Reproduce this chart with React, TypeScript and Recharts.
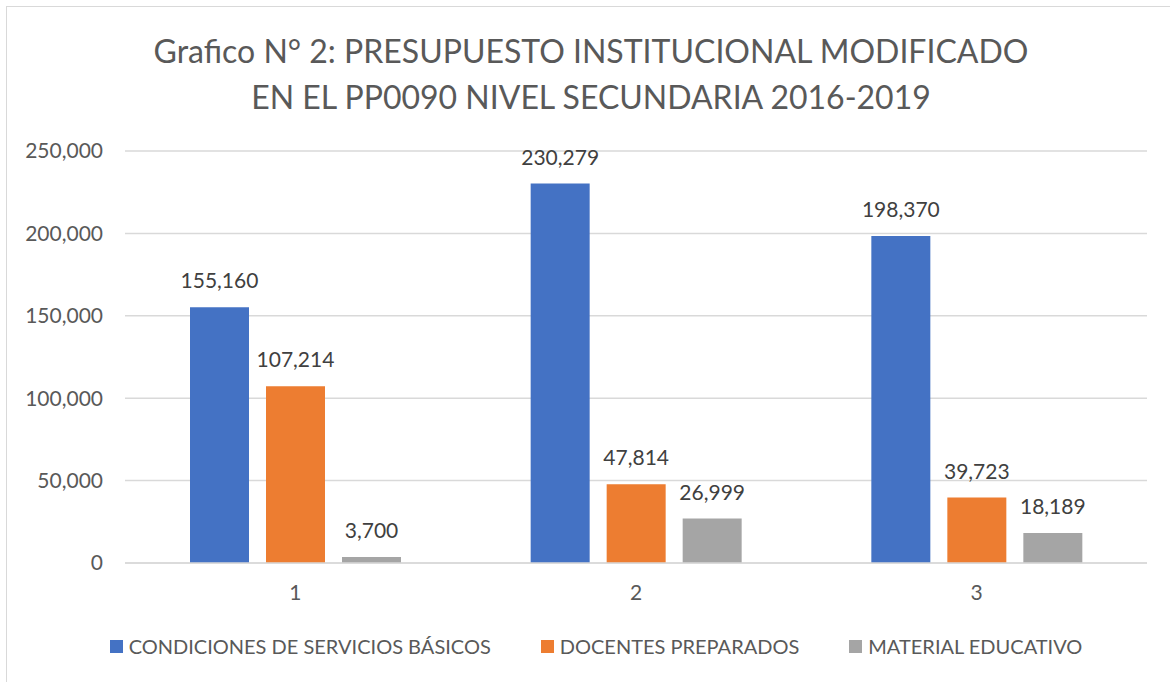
import React from "react";
import { BarChart, Bar, XAxis, YAxis, CartesianGrid, LabelList } from "recharts";

const categories = ["1", "2", "3"];
const serviciosBasicos = [155160, 230279, 198370];
const docentesPreparados = [107214, 47814, 39723];
const materialEducativo = [3700, 26999, 18189];
const yTicks = [0, 50000, 100000, 150000, 200000, 250000];
const seriesNames = [
  "CONDICIONES DE SERVICIOS BÁSICOS",
  "DOCENTES PREPARADOS",
  "MATERIAL EDUCATIVO",
];
const seriesColors = ["#4472C4", "#ED7D31", "#A5A5A5"];
const titleLines = [
  "Grafico N° 2: PRESUPUESTO INSTITUCIONAL MODIFICADO",
  "EN EL PP0090 NIVEL SECUNDARIA 2016-2019",
];

const data = categories.map((c, i) => ({
  cat: c,
  s1: serviciosBasicos[i],
  s2: docentesPreparados[i],
  s3: materialEducativo[i],
}));

const FONT = "Lato, 'Open Sans', sans-serif";
const TEXT = "#595959";
const fmt = (v: number) => v.toLocaleString("en-US");

export default function App() {
  return (
    <div style={{ position: "absolute", top: 0, left: 0, width: 1170, height: 682, overflow: "hidden", background: "#fff" }}>
      <div style={{ position: "absolute", left: 6, top: 6, width: 1200, height: 720, border: "1.5px solid #d9d9d9" }} />
      <div style={{ position: "absolute", top: 28, left: 0, width: 1182, textAlign: "center", fontFamily: FONT, fontSize: 32, color: TEXT, lineHeight: "46px" }}>
        {titleLines.map((t, i) => (
          <div key={i}>{t}</div>
        ))}
      </div>
      <div style={{ position: "absolute", top: 0, left: 0 }}>
        <BarChart
          width={1170}
          height={682}
          data={data}
          margin={{ top: 151, right: 23, bottom: 69, left: 0 }}
          barSize={59}
          barGap={17}
        >
          <CartesianGrid vertical={false} stroke="#d9d9d9" strokeWidth={1.5} />
          <XAxis
            dataKey="cat"
            axisLine={{ stroke: "#d9d9d9", strokeWidth: 1.5 }}
            tickLine={false}
            tickSize={0}
            tickMargin={22}
            tick={{ fill: TEXT, fontSize: 21, fontFamily: FONT }}
            height={50}
          />
          <YAxis
            domain={[0, 250000]}
            ticks={yTicks}
            tickFormatter={fmt}
            axisLine={false}
            tickLine={false}
            tickSize={0}
            tickMargin={22}
            width={125}
            tick={{ fill: TEXT, fontSize: 21, fontFamily: FONT }}
          />
          <Bar dataKey="s1" name={seriesNames[0]} fill={seriesColors[0]} isAnimationActive={false}>
            <LabelList dataKey="s1" position="top" offset={19} formatter={fmt as any} style={{ fill: "#404040", fontSize: 21, fontFamily: FONT }} />
          </Bar>
          <Bar dataKey="s2" name={seriesNames[1]} fill={seriesColors[1]} isAnimationActive={false}>
            <LabelList dataKey="s2" position="top" offset={19} formatter={fmt as any} style={{ fill: "#404040", fontSize: 21, fontFamily: FONT }} />
          </Bar>
          <Bar dataKey="s3" name={seriesNames[2]} fill={seriesColors[2]} isAnimationActive={false}>
            <LabelList dataKey="s3" position="top" offset={19} formatter={fmt as any} style={{ fill: "#404040", fontSize: 21, fontFamily: FONT }} />
          </Bar>
        </BarChart>
      </div>
      <div style={{ position: "absolute", top: 632, left: 0, width: 1192, display: "flex", justifyContent: "center", alignItems: "center", fontFamily: FONT, fontSize: 20, color: TEXT, lineHeight: "28px" }}>
        {seriesNames.map((n, i) => (
          <div key={i} style={{ display: "flex", alignItems: "center", marginLeft: i === 0 ? 0 : 50 }}>
            <span style={{ display: "inline-block", width: 13, height: 13, background: seriesColors[i], marginRight: 6 }} />
            <span>{n}</span>
          </div>
        ))}
      </div>
    </div>
  );
}
